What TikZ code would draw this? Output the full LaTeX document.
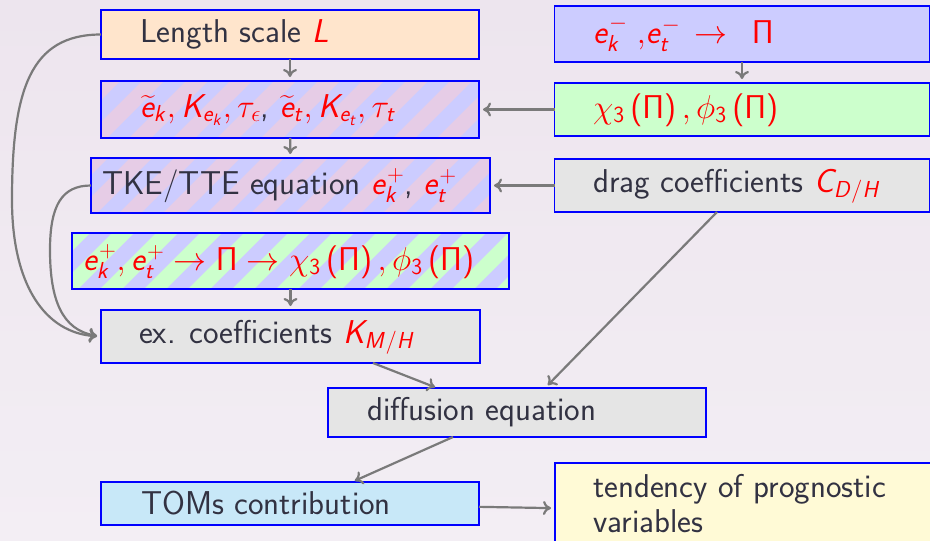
\RequirePackage{fix-cm}
\documentclass[tikz,border=0pt]{standalone}
\usetikzlibrary{arrows.meta,calc}
\usepackage{amsmath}
\DeclareSymbolFont{operators}{OT1}{cmss}{m}{n}
\SetSymbolFont{operators}{bold}{OT1}{cmss}{bx}{n}
\DeclareSymbolFont{sfletters}{OT1}{cmss}{m}{it}
\DeclareMathSymbol{e}{\mathalpha}{sfletters}{`e}
\DeclareMathSymbol{k}{\mathalpha}{sfletters}{`k}
\DeclareMathSymbol{t}{\mathalpha}{sfletters}{`t}
\DeclareMathSymbol{K}{\mathalpha}{sfletters}{`K}
\DeclareMathSymbol{L}{\mathalpha}{sfletters}{`L}
\DeclareMathSymbol{C}{\mathalpha}{sfletters}{`C}
\DeclareMathSymbol{D}{\mathalpha}{sfletters}{`D}
\DeclareMathSymbol{H}{\mathalpha}{sfletters}{`H}
\DeclareMathSymbol{M}{\mathalpha}{sfletters}{`M}
\definecolor{bgtop}{HTML}{EDE5EE}
\definecolor{bgbot}{HTML}{F3EEF4}
\definecolor{textc}{HTML}{323242}
\definecolor{bluef}{HTML}{CCCCFF}
\definecolor{pinkf}{HTML}{E6CCE6}
\definecolor{greenf}{HTML}{CCFFCC}
\definecolor{orangef}{HTML}{FFE5CC}
\definecolor{grayf}{HTML}{E5E5E5}
\definecolor{cyanf}{HTML}{C8E8F8}
\definecolor{yellowf}{HTML}{FFFAD6}
\definecolor{borderc}{HTML}{0000FF}
\definecolor{arrowc}{HTML}{7A7A7A}
\newcommand{\rd}[1]{{\color{red}$#1$}}
\newcommand{\stripefill}[2]{%
  \begin{scope}
    \clip (#1.south west) rectangle (#1.north east);
    \foreach \k in {0,...,14}{\fill[#2] ($(#1.south west)+(\k*44-60,0)$) -- ++(22,0) -- ++(60,-60) -- ++(-22,0) -- cycle;}
  \end{scope}
  \draw[boxline] (#1.south west) rectangle (#1.north east);}
\tikzset{
  boxline/.style={draw=borderc, line width=1.8pt},
  box/.style={boxline, rectangle, inner sep=0pt, outer sep=0pt},
  txt/.style={font=\fontsize{33}{35}\selectfont\sffamily, text=textc, inner sep=0pt, anchor=base west},
  arr/.style={draw=arrowc, line width=2.2pt, -{To[length=8pt,width=14pt]}, shorten >=4pt}
}
\begin{document}
\begin{tikzpicture}[x=1pt,y=-1pt]
\useasboundingbox (0,0) rectangle (930,541);
\clip (0,0) rectangle (930,541);
\shade[top color=bgtop, bottom color=bgbot] (0,0) rectangle (930,541);
% boxes
\node[box, fill=orangef, minimum width=378, minimum height=49] (ls) at (290,34.5) {};
\node[box, fill=bluef, minimum width=378, minimum height=57] (b2) at (290,109.5) {};
\stripefill{b2}{pinkf}
\node[box, fill=bluef, minimum width=399, minimum height=55] (b3) at (290.5,185.5) {};
\stripefill{b3}{pinkf}
\node[box, fill=bluef, minimum width=437, minimum height=56] (b4) at (290.5,261) {};
\stripefill{b4}{greenf}
\node[box, fill=grayf, minimum width=379, minimum height=53] (ex) at (290.5,336.5) {};
\node[box, fill=grayf, minimum width=378, minimum height=49] (diff) at (517,412.5) {};
\node[box, fill=cyanf, minimum width=378, minimum height=43] (toms) at (290,503.5) {};
\node[box, fill=yellowf, minimum width=378, minimum height=97] (tend) at (744,511.5) {};
\node[box, fill=bluef, minimum width=375, minimum height=56] (em) at (742,34) {};
\node[box, fill=greenf, minimum width=375, minimum height=53] (chi) at (742,109.5) {};
\node[box, fill=grayf, minimum width=375, minimum height=53] (drag) at (742,185.5) {};
% texts
\node[txt] (lsT) at (140,42) {Length scale \rd{L}};
\node[txt] (b2T) at (140,117) {\rd{\widetilde{e}_k, K_{e_k}, \tau_\epsilon}, \rd{\widetilde{e}_t, K_{e_t}, \tau_t}};
\node[txt] (b3T) at (102,194) {TKE/TTE equation \rd{e_k^+}, \rd{e_t^+}};
\node[txt] (b4T) at (83,270) {\rd{e_k^+, e_t^+ \rightarrow \Pi \rightarrow \chi_3\left(\Pi\right), \phi_3\left(\Pi\right)}};
\node[txt] (exT) at (139,343) {ex. coefficients \rd{K_{M/H}}};
\node[txt] (diffT) at (367,420) {diffusion equation};
\node[txt] (tomsT) at (141,514) {TOMs contribution};
\node[txt, align=left] (tendT) at (593,532) {tendency of prognostic\\variables};
\node[txt] (emT) at (593,43) {\rd{e_k^{-}\;{,}e_t^{-}\,\rightarrow\;\,\Pi}};
\node[txt] (chiT) at (593,118) {\rd{\chi_3\left(\Pi\right), \phi_3\left(\Pi\right)}};
\node[txt] (dragT) at (593,192) {drag coefficients \rd{C_{D/H}}};
% connectors
\draw[arr] (ls) -- (b2);
\draw[arr] (b2) -- (b3);
\draw[arr] (b4) -- (ex);
\draw[arr] (em) -- (chi);
\draw[arr] (chi) -- (b2);
\draw[arr] (drag) -- (b3);
\draw[arr] (toms) -- (tend);
\draw[arr, shorten >=2pt] ([xshift=82.5]ex.south) -- ([xshift=-80]diff.north);
\draw[arr] ([xshift=-25]drag.south) -- ([xshift=28]diff.north);
\draw[arr, shorten >=3pt] ([xshift=-64]diff.south) -- ([xshift=62]toms.north);
\draw[arr] (ls.west) .. controls (30,34.5) and (12,90) .. (12,200) .. controls (12,285) and (45,333) .. (ex.west);
\draw[arr] (b3.west) .. controls (62,185.5) and (50,205) .. (50,250) .. controls (50,300) and (62,330) .. (ex.west);
\end{tikzpicture}
\end{document}
